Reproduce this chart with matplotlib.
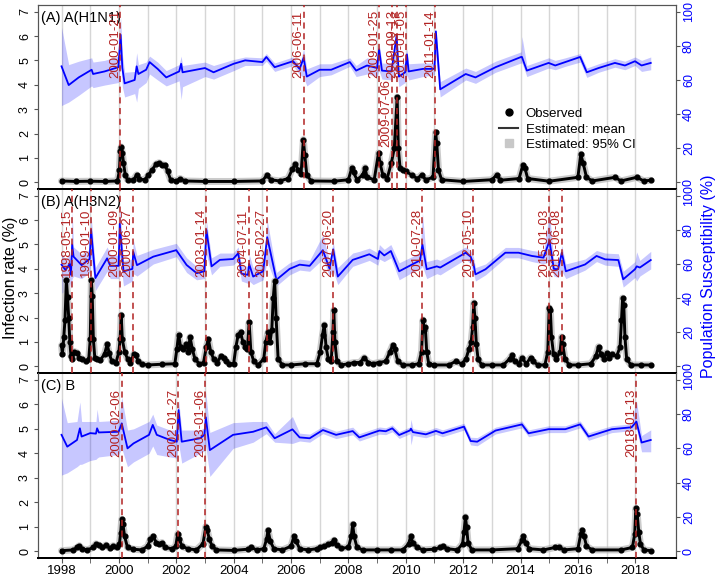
import pandas as pd
import matplotlib.pyplot as plt
from matplotlib.lines import Line2D

plt.rcParams['font.family'] = ['Liberation Sans', 'DejaVu Sans']

# ---------------- (A) A(H1N1) ----------------
a_sus_year = [1998.00, 1998.25, 1998.60, 1999.05, 1999.10, 1999.50, 1999.98, 2000.06, 2000.12, 2000.20,
              2000.55, 2000.62, 2000.68, 2000.95, 2001.07, 2001.35, 2001.65, 2002.10, 2002.17, 2002.22,
              2003.00, 2003.30, 2004.00, 2004.40, 2005.00, 2005.14, 2005.43, 2006.07, 2006.30, 2006.44,
              2006.55, 2007.00, 2007.40, 2008.05, 2008.27, 2008.65, 2009.00, 2009.07, 2009.17, 2009.50,
              2009.68, 2009.76, 2009.98, 2010.04, 2010.10, 2010.60, 2011.00, 2011.05, 2011.20, 2012.09,
              2012.43, 2013.13, 2014.02, 2014.05, 2014.22, 2014.98, 2015.21, 2015.56, 2016.08, 2016.31,
              2016.72, 2017.29, 2017.64, 2017.99, 2018.22, 2018.54]
a_sus_mean = [68, 57, 61.5, 66, 63.5, 65, 67.5, 86.5, 67, 58,
              60, 68, 63.5, 66, 70.5, 66.5, 61.5, 65, 69.5, 64.5,
              67, 64.5, 69.5, 71.5, 70.5, 73.5, 67.5, 71, 66.5, 73,
              62, 66, 66, 70.5, 65.5, 68.5, 67, 78, 65.5, 65,
              86, 62, 64.5, 75, 65, 66.5, 66.5, 88.5, 54.5, 63.5,
              61.5, 67.5, 73.5, 73.5, 65.5, 70, 68.5, 70.5, 73.5, 64.5,
              67, 70, 68.5, 71, 68.5, 70]
a_sus_lo = [45, 47, 51, 56.5, 55.5, 57, 58.5, 71.5, 56, 50,
            52, 47, 55, 58.5, 63.5, 60, 56.5, 59.5, 48.5, 56,
            62, 60.5, 65.5, 68.5, 68.5, 71, 65, 68.5, 63, 61.5,
            56.5, 62, 63, 68, 62, 63.5, 62, 65.5, 60.5, 60,
            67, 56, 58.5, 63, 60, 62, 63, 74, 50, 60,
            58, 64.5, 70, 70, 62, 67, 66, 68, 70.5, 61.5,
            64.5, 67.5, 66, 68.5, 65, 66]
a_sus_hi = [91, 69, 71, 73, 70.5, 71.5, 74, 97, 75.5, 64.5,
            65, 76, 69, 70.5, 74, 70.5, 65.5, 69, 74, 68.5,
            70.5, 68.5, 72, 73.5, 73, 75.5, 70, 73.5, 69, 78.5,
            66.5, 69.5, 69.5, 73, 68.5, 73, 71.5, 81.5, 70, 69.5,
            88.5, 68, 70, 78.5, 69.5, 70, 70, 90, 59, 67,
            65, 71, 76.5, 85.5, 68.5, 73, 71.5, 73, 75.5, 67,
            69.5, 72.5, 71, 73.5, 71.5, 73.5]
a_obs_year = [1998.00, 1998.50, 1999.00, 1999.50, 1999.95, 2000.02, 2000.05, 2000.08, 2000.12, 2000.16,
              2000.22, 2000.30, 2000.50, 2000.62, 2000.70, 2000.90, 2001.03, 2001.15, 2001.30, 2001.40,
              2001.50, 2001.60, 2001.70, 2001.80, 2002.00, 2002.13, 2002.30, 2003.00, 2004.00, 2005.00,
              2005.15, 2005.30, 2005.60, 2005.90, 2006.05, 2006.15, 2006.25, 2006.35, 2006.43, 2006.48,
              2006.55, 2006.70, 2007.50, 2008.00, 2008.12, 2008.18, 2008.30, 2008.50, 2008.58, 2008.65,
              2008.90, 2009.05, 2009.10, 2009.20, 2009.35, 2009.50, 2009.60, 2009.70, 2009.74, 2009.80,
              2009.90, 2010.00, 2010.20, 2010.40, 2010.55, 2010.70, 2010.95, 2011.04, 2011.08, 2011.14,
              2011.25, 2012.00, 2013.00, 2013.17, 2013.30, 2013.95, 2014.08, 2014.15, 2014.25, 2015.00,
              2016.00, 2016.10, 2016.18, 2016.30, 2016.50, 2017.30, 2017.50, 2018.05, 2018.30, 2018.54]
a_obs_rate = [0.05, 0.03, 0.04, 0.03, 0.05, 0.5, 1.3, 1.45, 1.2, 0.8,
              0.3, 0.1, 0.08, 0.3, 0.12, 0.1, 0.3, 0.5, 0.75, 0.8,
              0.72, 0.7, 0.45, 0.1, 0.05, 0.15, 0.05, 0.03, 0.03, 0.05,
              0.28, 0.1, 0.05, 0.15, 0.55, 0.75, 0.5, 0.35, 1.75, 1.1,
              0.3, 0.05, 0.04, 0.1, 0.6, 0.4, 0.1, 0.3, 0.6, 0.2,
              0.1, 1.2, 0.8, 0.3, 0.15, 0.8, 1.4, 3.5, 1.4, 0.6,
              0.5, 0.45, 0.3, 0.15, 0.3, 0.1, 0.2, 2.05, 1.6, 0.5,
              0.1, 0.03, 0.1, 0.3, 0.08, 0.15, 0.7, 0.6, 0.15, 0.04,
              0.2, 1.15, 0.8, 0.2, 0.05, 0.2, 0.05, 0.2, 0.05, 0.08]
a_events = ['2000-01-21', '2006-06-11', '2009-01-25', '2009-07-06', '2009-09-13', '2010-01-05', '2011-01-14']

# ---------------- (B) A(H3N2) ----------------
b_sus_year = [1998.00, 1998.14, 1998.28, 1998.33, 1998.37, 1998.42, 1998.70, 1998.98, 1999.03, 1999.18,
              1999.59, 1999.70, 1999.99, 2000.03, 2000.16, 2000.47, 2000.50, 2000.63, 2001.20, 2002.00,
              2002.36, 2002.71, 2002.98, 2003.05, 2003.23, 2003.52, 2003.98, 2004.16, 2004.27, 2004.50,
              2004.54, 2004.68, 2005.03, 2005.17, 2005.49, 2005.95, 2006.30, 2006.65, 2007.11, 2007.34,
              2007.47, 2007.63, 2008.15, 2008.38, 2008.73, 2009.03, 2009.08, 2009.25, 2009.48, 2009.77,
              2010.22, 2010.50, 2010.58, 2010.73, 2011.08, 2011.20, 2012.09, 2012.26, 2012.36, 2012.43,
              2012.78, 2013.47, 2013.93, 2014.40, 2014.80, 2015.01, 2015.16, 2015.31, 2015.44, 2015.58,
              2016.25, 2016.65, 2016.95, 2017.41, 2017.58, 2017.99, 2018.05, 2018.16, 2018.54]
b_sus_mean = [59.6, 56.4, 60, 53.6, 71.4, 64.3, 59.3, 62.9, 80, 51.7,
              63.3, 58.9, 58.9, 83.6, 55.7, 57.1, 67.1, 59.3, 64.3, 68.1,
              59.4, 54.6, 55.7, 80, 58.6, 62.4, 62.9, 66.3, 54.3, 53.6,
              60, 52.6, 55.7, 75.7, 50.7, 57.1, 59.6, 58.9, 68.1, 57.4,
              68.6, 52.6, 62.4, 63.7, 65.7, 62.9, 67.6, 65, 67.6, 55.7,
              59.7, 62.1, 71.4, 56.9, 58.6, 57.9, 66.6, 64.3, 60, 53.9,
              56.9, 66.6, 66.6, 64.7, 63.7, 73.6, 57.1, 56.9, 66.6, 55.7,
              59.7, 64.7, 62.7, 62.3, 51, 56.9, 58.6, 57.9, 62.3]
b_sus_lo = [42.9, 44.3, 48.6, 45.7, 51.4, 52.9, 51.4, 55, 64.3, 44.3,
            55.7, 51.4, 51.4, 64.3, 47.1, 50, 54.3, 52.9, 60, 64.3,
            55, 50.7, 51.4, 65.7, 53.6, 58.6, 59.3, 62.1, 50, 48.6,
            50, 47.9, 50.7, 61.4, 47.1, 53.6, 56.4, 55.7, 62.9, 52.9,
            55.7, 47.9, 58.6, 60, 62.1, 59.3, 62.9, 61.4, 63.6, 50.7,
            55, 57.1, 58.6, 51.4, 54.3, 53.6, 62.9, 60, 54.3, 50,
            53.6, 63.6, 63.6, 61.4, 60, 61.4, 52.9, 52.1, 55.7, 51.4,
            56.4, 61.4, 59.3, 58.6, 46.4, 52.1, 50, 52.9, 57.1]
b_sus_hi = [65.7, 62.9, 65.7, 61.4, 91.4, 70, 65.7, 68.6, 88.6, 57.9,
            70, 65.7, 65, 94.3, 62.1, 62.9, 74.3, 65, 68.6, 72.1,
            63.6, 58.6, 60, 85.7, 63.6, 66.4, 66.4, 70, 59.3, 58.6,
            65.7, 57.9, 60.7, 85.7, 55, 60.7, 62.9, 62.1, 77.1, 62.1,
            72.9, 57.9, 66.4, 67.4, 69.3, 66.4, 71.4, 68.6, 71.4, 60.7,
            64.3, 67.1, 90, 61.4, 62.9, 62.1, 70, 67.9, 64.3, 57.9,
            60, 69.7, 69.7, 67.9, 67.1, 90, 62.1, 61.4, 70.7, 60,
            62.9, 67.9, 66.4, 66, 55.7, 61.4, 67.1, 62.1, 67.4]
b_obs_year = [1998.00, 1998.03, 1998.08, 1998.12, 1998.17, 1998.21, 1998.25, 1998.29, 1998.33, 1998.38,
              1998.45, 1998.54, 1998.62, 1998.72, 1998.85, 1998.95, 1999.00, 1999.04, 1999.07, 1999.11,
              1999.16, 1999.22, 1999.35, 1999.50, 1999.59, 1999.66, 1999.75, 1999.90, 2000.00, 2000.04,
              2000.08, 2000.12, 2000.20, 2000.30, 2000.40, 2000.52, 2000.58, 2000.68, 2000.80, 2001.00,
              2001.50, 2001.95, 2002.02, 2002.08, 2002.15, 2002.25, 2002.35, 2002.42, 2002.48, 2002.56,
              2002.65, 2002.80, 2002.95, 2003.05, 2003.12, 2003.20, 2003.30, 2003.42, 2003.55, 2003.65,
              2003.75, 2003.85, 2004.00, 2004.08, 2004.16, 2004.24, 2004.32, 2004.40, 2004.48, 2004.54,
              2004.60, 2004.70, 2004.85, 2005.05, 2005.12, 2005.20, 2005.27, 2005.33, 2005.38, 2005.43,
              2005.48, 2005.55, 2005.70, 2006.00, 2006.50, 2006.90, 2007.02, 2007.10, 2007.16, 2007.22,
              2007.30, 2007.40, 2007.46, 2007.49, 2007.53, 2007.60, 2007.75, 2008.00, 2008.20, 2008.40,
              2008.55, 2008.70, 2008.85, 2009.05, 2009.30, 2009.45, 2009.54, 2009.62, 2009.72, 2009.90,
              2010.20, 2010.45, 2010.55, 2010.60, 2010.64, 2010.68, 2010.73, 2010.80, 2011.00, 2011.50,
              2011.74, 2011.95, 2012.10, 2012.20, 2012.28, 2012.33, 2012.37, 2012.41, 2012.46, 2012.52,
              2012.65, 2013.00, 2013.40, 2013.62, 2013.70, 2013.80, 2013.95, 2014.05, 2014.20, 2014.35,
              2014.45, 2014.60, 2014.85, 2014.95, 2015.00, 2015.04, 2015.08, 2015.15, 2015.25, 2015.38,
              2015.43, 2015.47, 2015.55, 2015.70, 2016.00, 2016.45, 2016.62, 2016.72, 2016.80, 2016.90,
              2017.00, 2017.10, 2017.20, 2017.35, 2017.47, 2017.52, 2017.56, 2017.60, 2017.64, 2017.70,
              2017.85, 2018.20, 2018.54]
b_obs_rate = [0.85, 0.5, 1.2, 1.9, 3.55, 2.85, 2.0, 1.0, 0.4, 0.3,
              0.6, 0.55, 0.35, 0.3, 0.2, 0.3, 1.1, 3.55, 2.9, 1.1,
              0.35, 0.3, 0.25, 0.5, 0.9, 0.55, 0.2, 0.15, 0.6, 1.1,
              2.1, 1.1, 0.6, 0.3, 0.15, 0.5, 0.45, 0.2, 0.08, 0.05,
              0.08, 0.1, 0.7, 1.3, 0.8, 0.7, 0.9, 0.6, 1.2, 0.7,
              0.3, 0.1, 0.15, 0.8, 1.1, 0.6, 0.3, 0.15, 0.4, 0.35,
              0.2, 0.1, 0.1, 0.8, 1.3, 1.4, 1.0, 0.8, 0.7, 1.8,
              0.6, 0.2, 0.05, 0.3, 1.0, 1.4, 1.0, 1.5, 2.8, 3.5,
              2.0, 0.3, 0.05, 0.05, 0.1, 0.1, 0.6, 1.3, 1.7, 0.8,
              0.3, 0.2, 1.4, 2.3, 1.0, 0.2, 0.05, 0.1, 0.15, 0.15,
              0.35, 0.15, 0.1, 0.15, 0.2, 0.6, 0.85, 0.7, 0.2, 0.05,
              0.05, 0.1, 0.6, 1.9, 1.5, 1.6, 0.6, 0.1, 0.05, 0.05,
              0.2, 0.1, 0.3, 0.7, 1.0, 1.6, 2.6, 2.0, 0.9, 0.3,
              0.05, 0.05, 0.05, 0.3, 0.45, 0.2, 0.1, 0.35, 0.1, 0.35,
              0.2, 0.05, 0.05, 0.6, 2.4, 2.3, 1.2, 0.5, 0.3, 0.6,
              1.2, 0.9, 0.3, 0.05, 0.05, 0.1, 0.4, 0.8, 0.5, 0.3,
              0.55, 0.35, 0.5, 0.4, 0.8, 1.9, 2.8, 2.5, 1.2, 0.3,
              0.05, 0.05, 0.05]
b_events = ['1998-05-15', '1999-01-10', '2000-01-09', '2000-06-27', '2003-01-14', '2004-07-11',
            '2005-02-27', '2007-06-20', '2010-07-28', '2012-05-10', '2015-01-03', '2015-06-08']

# ---------------- (C) B ----------------
c_sus_year = [1998.00, 1998.20, 1998.54, 1998.64, 1998.70, 1999.00, 1999.20, 1999.24, 1999.30, 1999.99,
              2000.10, 2000.30, 2000.51, 2001.05, 2001.18, 2001.32, 2001.78, 2002.02, 2002.08, 2002.19,
              2002.83, 2002.98, 2003.03, 2003.17, 2003.98, 2004.68, 2005.14, 2005.43, 2006.05, 2006.30,
              2006.65, 2007.11, 2007.57, 2008.15, 2008.38, 2009.08, 2009.30, 2009.53, 2009.77, 2010.15,
              2010.18, 2010.25, 2010.70, 2011.05, 2011.28, 2012.03, 2012.26, 2012.49, 2013.13, 2014.05,
              2014.28, 2014.98, 2015.56, 2016.08, 2016.37, 2017.18, 2017.87, 2018.04, 2018.22, 2018.54]
c_sus_mean = [67.9, 61, 64.9, 71.7, 66.9, 68.9, 68.6, 71.7, 69.3, 69.7,
              74.6, 60, 62.9, 67.9, 73.7, 67.9, 64.9, 63.9, 82.4, 63.9,
              65.9, 67.9, 78.1, 59, 67.9, 69.7, 72.3, 65.9, 71.1, 66.4,
              65.9, 70.7, 67.9, 70.1, 66.4, 70.4, 70, 71.7, 67.8, 70.5,
              71.5, 69.5, 68.2, 70.2, 68.8, 72.7, 64.3, 63.9, 70.4, 74,
              68.8, 71.2, 71.2, 74, 66.9, 71.2, 72.3, 75.6, 63.4, 64.9]
c_sus_lo = [44.4, 45.7, 49.3, 50.7, 50.7, 52.9, 53.6, 54.3, 55, 56.4,
            60, 49.3, 52.1, 57.1, 61.4, 56.4, 55, 54.3, 62.9, 51.4,
            57.1, 58.6, 61.4, 43.6, 60, 63.6, 68.6, 63.6, 62.9, 64.3,
            63.6, 68.6, 65.7, 67.9, 64.3, 68.3, 68, 69.7, 65.8, 68.5,
            62, 67.5, 66.2, 68.2, 66.8, 70.7, 62, 61.5, 68.4, 72,
            66.8, 69.2, 69.2, 72, 64.7, 69.2, 70.3, 72, 58, 58]
c_sus_hi = [89.3, 75, 75.7, 87.1, 75.7, 75.7, 75.7, 82.9, 75.7, 76.4,
            90, 70.7, 71.4, 75.7, 80, 73.6, 70.7, 70.7, 88.6, 70.7,
            70.7, 72.1, 92.9, 69.3, 75, 75.7, 75.7, 68.6, 78.6, 68.9,
            68.3, 72.9, 70, 72.4, 68.6, 72.5, 72, 73.7, 69.8, 72.5,
            77, 71.5, 70.2, 72.2, 70.8, 74.7, 66.5, 66.3, 72.4, 76,
            70.8, 73.2, 73.2, 76, 69.1, 73.2, 74.3, 88, 67.5, 70.8]
c_obs_year = [1998.00, 1998.40, 1998.55, 1998.62, 1998.70, 1998.90, 1999.10, 1999.20, 1999.30, 1999.42,
              1999.55, 1999.68, 1999.80, 1999.92, 2000.02, 2000.06, 2000.10, 2000.14, 2000.20, 2000.30,
              2000.50, 2000.80, 2001.00, 2001.10, 2001.20, 2001.30, 2001.40, 2001.50, 2001.60, 2001.85,
              2001.98, 2002.05, 2002.10, 2002.20, 2002.40, 2002.70, 2002.93, 2003.03, 2003.08, 2003.15,
              2003.25, 2003.40, 2004.00, 2004.50, 2004.62, 2004.80, 2005.05, 2005.15, 2005.20, 2005.28,
              2005.40, 2005.70, 2006.00, 2006.10, 2006.18, 2006.30, 2006.60, 2006.90, 2007.00, 2007.15,
              2007.30, 2007.42, 2007.50, 2007.60, 2007.75, 2008.00, 2008.10, 2008.15, 2008.20, 2008.30,
              2008.50, 2009.00, 2009.50, 2009.90, 2010.10, 2010.17, 2010.25, 2010.40, 2010.60, 2011.00,
              2011.20, 2011.30, 2011.45, 2011.80, 2011.98, 2012.03, 2012.08, 2012.12, 2012.17, 2012.30,
              2013.00, 2013.90, 2014.05, 2014.10, 2014.18, 2014.30, 2014.80, 2015.20, 2015.35, 2015.50,
              2016.00, 2016.10, 2016.14, 2016.22, 2016.30, 2016.50, 2017.50, 2017.90, 2017.98, 2018.02,
              2018.07, 2018.12, 2018.18, 2018.30, 2018.54]
c_obs_rate = [0.02, 0.05, 0.15, 0.22, 0.1, 0.05, 0.15, 0.3, 0.25, 0.15,
              0.25, 0.12, 0.22, 0.15, 0.3, 0.75, 1.3, 1.1, 0.6, 0.15,
              0.08, 0.05, 0.2, 0.5, 0.6, 0.35, 0.3, 0.35, 0.15, 0.1,
              0.2, 0.7, 0.5, 0.2, 0.1, 0.05, 0.3, 1.0, 0.85, 0.5,
              0.2, 0.05, 0.03, 0.08, 0.15, 0.05, 0.1, 0.5, 0.85, 0.4,
              0.1, 0.05, 0.2, 0.6, 0.4, 0.1, 0.05, 0.1, 0.15, 0.2,
              0.3, 0.35, 0.45, 0.25, 0.12, 0.15, 0.6, 1.1, 0.6, 0.15,
              0.05, 0.05, 0.05, 0.05, 0.3, 0.6, 0.35, 0.15, 0.05, 0.08,
              0.15, 0.2, 0.1, 0.05, 0.3, 0.8, 1.4, 1.0, 0.35, 0.05,
              0.05, 0.1, 0.45, 0.6, 0.35, 0.1, 0.05, 0.15, 0.18, 0.05,
              0.1, 0.7, 0.85, 0.6, 0.2, 0.05, 0.05, 0.15, 0.7, 1.75,
              1.5, 0.8, 0.3, 0.05, 0.02]
c_events = ['2000-02-06', '2002-01-27', '2003-01-06', '2018-01-13']

panel_titles = ['(A) A(H1N1)', '(B) A(H3N2)', '(C) B']


def dec_year(s):
    t = pd.Timestamp(s)
    return t.year + (t.dayofyear - 1) / (366 if t.is_leap_year else 365)


panels = [
    dict(title=panel_titles[0], sy=a_sus_year, sm=a_sus_mean, slo=a_sus_lo, shi=a_sus_hi,
         oy=a_obs_year, orate=a_obs_rate, ev=a_events, lab_y=4.3),
    dict(title=panel_titles[1], sy=b_sus_year, sm=b_sus_mean, slo=b_sus_lo, shi=b_sus_hi,
         oy=b_obs_year, orate=b_obs_rate, ev=b_events, lab_y=3.65),
    dict(title=panel_titles[2], sy=c_sus_year, sm=c_sus_mean, slo=c_sus_lo, shi=c_sus_hi,
         oy=c_obs_year, orate=c_obs_rate, ev=c_events, lab_y=3.85),
]
label_y_override = {'2009-07-06': 1.45}

fig = plt.figure(figsize=(7.17, 5.78), dpi=100)
W, H = 717, 578
left, right = 38, 676
tops = [5, 189, 373]
bottoms = [189, 373, 558]
red = '#b22222'
spine_gray = '#555555'

for i, p in enumerate(panels):
    ax = fig.add_axes([left / W, 1 - bottoms[i] / H, (right - left) / W, (bottoms[i] - tops[i]) / H])
    ax2 = ax.twinx()
    ax.set_zorder(ax2.get_zorder() + 1)
    ax.patch.set_visible(False)

    ax.set_xlim(1997.18, 2019.42)
    ax.set_ylim(-0.28, 7.28)
    ax2.set_ylim(-4, 104)

    # year grid
    for yr in range(1998, 2019):
        ax2.axvline(yr, color='#d6d6d6', lw=1, zorder=0)

    # susceptibility
    ax2.fill_between(p['sy'], p['slo'], p['shi'], color='#0000ff', alpha=0.22, lw=0, zorder=1)
    ax2.plot(p['sy'], p['sm'], color='#0000ff', lw=1.3, zorder=2)

    # observed / estimated infection rate
    ax.plot(p['oy'], p['orate'], color='#b5b5b5', lw=5, alpha=0.7, solid_capstyle='round', zorder=2)
    ax.plot(p['oy'], p['orate'], color='black', lw=2.1, marker='o', ms=3.4, zorder=3)

    # change points
    for d in p['ev']:
        x = dec_year(d)
        ax.axvline(x, color=red, ls=(0, (4, 3)), lw=1.1, zorder=4)
        ax.text(x + 0.03, label_y_override.get(d, p['lab_y']), d, rotation=90, ha='right', va='bottom',
                color=red, fontsize=9.5, zorder=5)

    ax.text(0.005, 0.968, p['title'], transform=ax.transAxes, ha='left', va='top', fontsize=10.5)

    # axes styling
    ax.set_yticks(range(0, 8))
    ax.tick_params(axis='y', labelrotation=90, labelsize=9, length=3, pad=2, color=spine_gray)
    for lab in ax.get_yticklabels():
        lab.set_va('center')
    ax2.set_yticks(range(0, 101, 20))
    ax2.tick_params(axis='y', labelrotation=90, labelsize=9, length=3, pad=2, labelcolor='#0000ff',
                    color=spine_gray)
    for lab in ax2.get_yticklabels():
        lab.set_va('center')
    ax2.tick_params(axis='x', bottom=False, labelbottom=False)

    for a in (ax, ax2):
        for s in ('left', 'right', 'top'):
            a.spines[s].set_color(spine_gray)
        a.spines['bottom'].set_color('black')
        a.spines['bottom'].set_linewidth(1.4)
        if i > 0:
            a.spines['top'].set_visible(False)

    if i < 2:
        ax.tick_params(axis='x', bottom=False, labelbottom=False)
    else:
        ax.set_xticks(range(1998, 2019, 2))
        ax.set_xticks(range(1999, 2019, 2), minor=True)
        ax.tick_params(axis='x', which='both', length=3.6, color=spine_gray, labelsize=9.5, pad=1.5)

    if i == 0:
        handles = [
            Line2D([], [], color='black', marker='o', ls='none', ms=5),
            Line2D([], [], color='#333333', lw=1.5),
            Line2D([], [], color='#c8c8c8', marker='s', ls='none', ms=6),
        ]
        ax.legend(handles, ['Observed', 'Estimated: mean', 'Estimated: 95% CI'], loc='upper left',
                  bbox_to_anchor=(0.715, 0.47), frameon=False, fontsize=9.5, handlelength=1.4,
                  handletextpad=0.6, labelspacing=0.25, borderaxespad=0)

fig.text(0.014, 0.52, 'Infection rate (%)', rotation=90, ha='center', va='center', fontsize=11.5)
fig.text(0.988, 0.522, 'Population Susceptibility (%)', rotation=90, ha='center', va='center',
         fontsize=11.5, color='#0000ff')

fig.savefig('out.png', dpi=100)
